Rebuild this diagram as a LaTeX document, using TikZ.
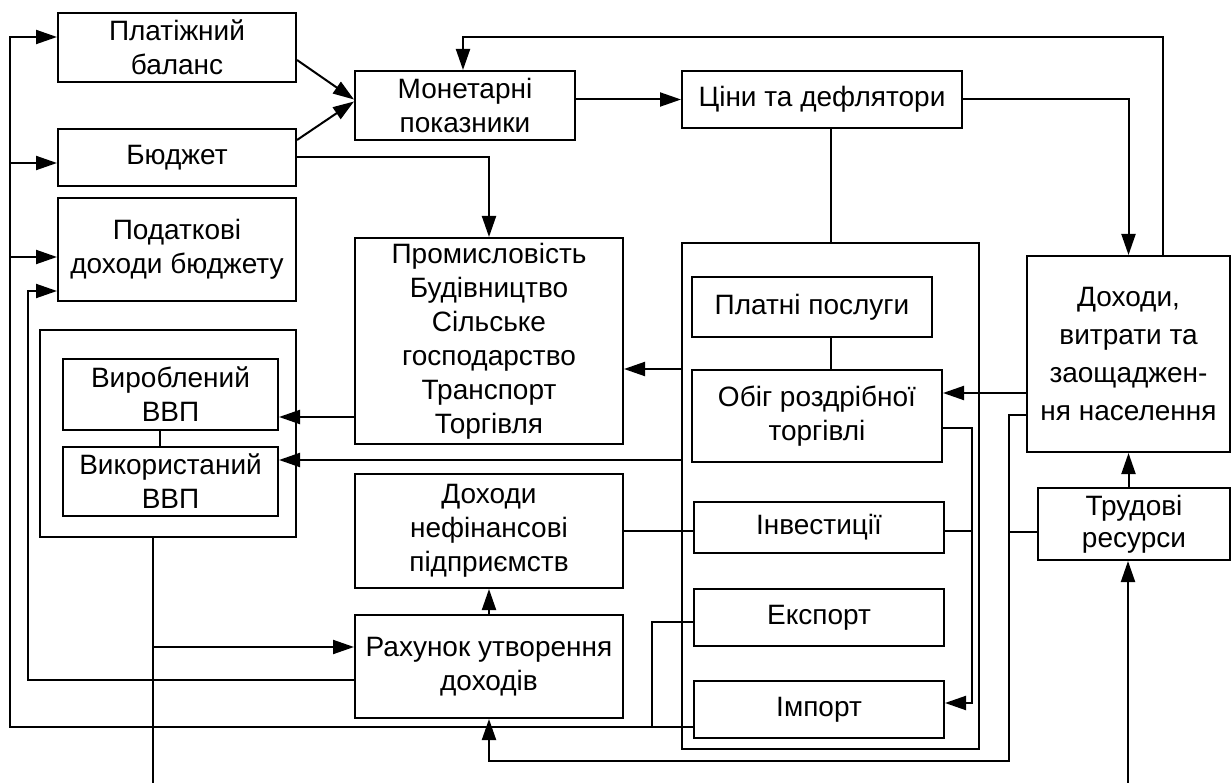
\documentclass[tikz,border=0pt]{standalone}
\usepackage{fontspec}
\setmainfont{Liberation Sans}
\usetikzlibrary{arrows.meta}

\begin{document}
\begin{tikzpicture}[x=1pt,y=-1pt,
    blok/.style={draw, line width=2pt, align=center, inner sep=0pt,
      font=\fontsize{28}{34}\selectfont},
    lin/.style={line width=2pt},
    arr/.style={line width=2pt, -{Triangle[length=21pt,width=14pt]}}]
  \useasboundingbox (0,0) rectangle (1231,783);

  % Зовнішні рамки
  \node[blok, minimum width=256pt, minimum height=207pt] (vvp) at (168,433.5) {};
  \node[blok, minimum width=297pt, minimum height=506pt] (cent) at (830.5,496) {};

  % Ліва колонка
  \node[blok, minimum width=238pt, minimum height=69pt] (pb) at (177,47.5) {Платіжний\\баланс};
  \node[blok, minimum width=238pt, minimum height=57pt] (bud) at (177,157.5) {Бюджет};
  \node[blok, minimum width=238pt, minimum height=103pt] (pod) at (177,249.5) {Податкові\\доходи бюджету};
  \node[blok, minimum width=215pt, minimum height=71pt] (vyr) at (170.5,394.5) {Вироблений\\ВВП};
  \node[blok, minimum width=215pt, minimum height=69pt] (vyk) at (170.5,481.5) {Використаний\\ВВП};

  % Середня колонка
  \node[blok, minimum width=220pt, minimum height=69pt] (mon) at (465,105.5) {Монетарні\\показники};
  \node[blok, minimum width=268pt, minimum height=206pt] (prom) at (489,341)
    {Промисловість\\Будівництво\\Сільське\\господарство\\Транспорт\\Торгівля};
  \node[blok, minimum width=268pt, minimum height=114pt] (dnp) at (489,531) {Доходи\\нефінансові\\підприємств};
  \node[blok, minimum width=268pt, minimum height=103pt] (rah) at (489,666.5) {Рахунок утворення\\доходів};

  % Права частина
  \node[blok, minimum width=280pt, minimum height=57pt] (cin) at (822,99.5) {Ціни та дефлятори};
  \node[blok, minimum width=240pt, minimum height=60pt] (pp) at (812,307) {Платні послуги};
  \node[blok, minimum width=250pt, minimum height=92pt] (obig) at (817,416) {Обіг роздрібної\\торгівлі};
  \node[blok, minimum width=250pt, minimum height=51pt] (inv) at (819,527.5) {Інвестиції};
  \node[blok, minimum width=250pt, minimum height=57pt] (exp) at (819,617.5) {Експорт};
  \node[blok, minimum width=250pt, minimum height=57pt] (imp) at (819,709.5) {Імпорт};
  \node[blok, minimum width=203pt, minimum height=196pt, font=\fontsize{28}{38}\selectfont] (dns) at (1128.5,354)
    {Доходи,\\витрати та\\заощаджен-\\ня населення};
  \node[blok, minimum width=192pt, minimum height=72pt, font=\fontsize{28}{32}\selectfont] (trud) at (1134,524) {Трудові\\ресурси};

  % Точки шин
  \coordinate (lb) at (10,37);
  \coordinate (lb2) at (28,291);
  \coordinate (vbot) at (153,783);
  \coordinate (fb) at (463,37);
  \coordinate (eb) at (652,727);
  \coordinate (ib) at (972,703);
  \coordinate (rb) at (1009,761);
  \coordinate (tb) at (1128,783);

  % Верхні зв'язки
  \draw[arr] ([yshift=-12.5pt]pb.east) -- ([yshift=6pt]mon.west);
  \draw[arr] ([yshift=17.5pt]bud.east) -- ([yshift=4pt]mon.west);
  \draw[arr] (bud.east) -| (prom.north);
  \draw[arr] (cin.west -| mon.east) -- (cin.west);
  \draw[arr] (cin.east) -| (dns.north);
  \draw[arr] ([xshift=34.5pt]dns.north) |- (fb) -- (fb |- mon.north);
  \draw[lin] (cin.south -| cent.north) -- (cent.north);
  \draw[lin] (pp.south -| cent.north) -- (obig.north -| cent.north);

  % Ліва шина
  \draw[arr] ([yshift=-17.5pt]imp.west) -| (lb) -- ([yshift=10.5pt]pb.west);
  \draw[arr] ([yshift=-5.5pt]bud.west -| lb) -- ([yshift=-5.5pt]bud.west);
  \draw[arr] ([yshift=-7.5pt]pod.west -| lb) -- ([yshift=-7.5pt]pod.west);
  \draw[arr] ([yshift=-13.5pt]rah.west) -| (lb2) -- ([yshift=-41.5pt]pod.west);

  % ВВП
  \draw[lin] ([xshift=-10.5pt]vyr.south) -- ([xshift=-10.5pt]vyk.north);
  \draw[arr] ([yshift=-76pt]prom.west) -- ([yshift=-76pt]prom.west -| vyr.east);
  \draw[arr] ([yshift=36pt]cent.west) -- ([yshift=36pt]cent.west -| vyk.east);
  \draw[lin] (vvp.south -| vbot) -- (vbot);
  \draw[arr] ([yshift=19.5pt]rah.west -| vbot) -- ([yshift=19.5pt]rah.west);

  % Середина
  \draw[arr] (cent.west |- obig.north) -- (prom.east |- obig.north);
  \draw[lin] (dnp.east) -- (dnp.east -| inv.west);
  \draw[arr] (rah.north) -- (dnp.south);
  \draw[lin] ([yshift=-4.5pt]exp.west) -| (eb);
  \draw[arr] ([yshift=-12pt]obig.east) -| (ib) -- ([yshift=6.5pt]imp.east);
  \draw[lin] ([yshift=-3.5pt]inv.east) -- ([yshift=-3.5pt]inv.east -| ib);

  % Населення
  \draw[arr] ([yshift=-39pt]dns.west) -- ([yshift=-39pt]dns.west -| obig.east);
  \draw[arr] ([yshift=-61pt]dns.west) -| (rb) -| (rah.south);
  \draw[lin] ([yshift=-8pt]trud.west) -- ([yshift=-8pt]trud.west -| rb);
  \draw[arr] (trud.north -| dns.south) -- (dns.south);
  \draw[arr] (tb) -- (tb |- trud.south);
\end{tikzpicture}
\end{document}
